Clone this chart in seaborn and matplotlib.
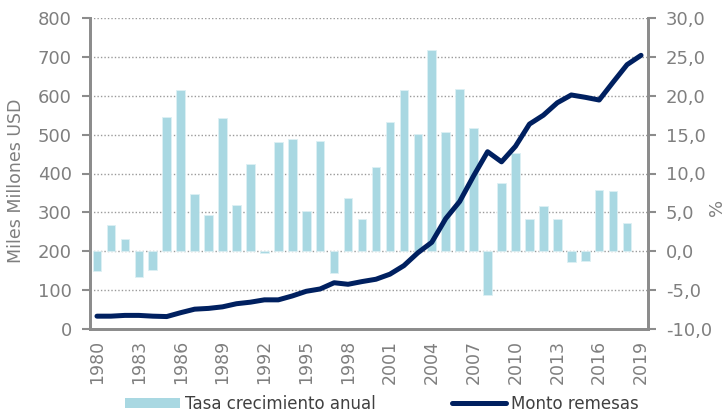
"""
Remesas: monto anual (miles de millones USD) y tasa de crecimiento anual (%).
"""

import matplotlib

matplotlib.use("Agg")

import matplotlib.pyplot as plt
import numpy as np
import pandas as pd
import seaborn as sns
from matplotlib.lines import Line2D
from matplotlib.patches import Patch

YEARS = [str(y) for y in range(1980, 2020)]

# Tasa crecimiento anual (%), eje derecho
GROWTH = [
    -2.6, 3.4, 1.6, -3.3, -2.4, 17.3, 20.8, 7.3, 4.7, 17.1,
    5.9, 11.2, -0.2, 14.1, 14.4, 5.2, 14.2, -2.8, 6.9, 4.2,
    10.9, 16.6, 20.8, 15.1, 25.9, 15.4, 20.9, 15.8, -5.6, 8.8,
    12.7, 4.1, 5.8, 4.1, -1.4, -1.2, 7.9, 7.8, 3.6, np.nan,
]

# Monto remesas (miles de millones USD), eje izquierdo
AMOUNT = [
    33, 33, 35, 35, 33, 32, 42, 51, 53, 57,
    65, 69, 75, 75, 85, 97, 103, 119, 115, 122,
    128, 141, 163, 196, 223, 284, 328, 394, 456, 430,
    470, 527, 550, 582, 602, 596, 589, 635, 680, 704,
]

LEFT_TICKS = list(range(0, 801, 100))
RIGHT_TICKS = list(range(-10, 31, 5))

BAR_COLOR = "#A9D8E2"
LINE_COLOR = "#002060"
AXIS_GRAY = "#8C8C8C"
TEXT_GRAY = "#7F7F7F"

df = pd.DataFrame({"year": YEARS, "growth": GROWTH, "amount": AMOUNT})

sns.set_style("white")
plt.rcParams["font.family"] = ["DejaVu Sans"]

fig = plt.figure(figsize=(7.28, 4.12), dpi=100)
ax_line = fig.add_axes([90 / 728, 1 - 329 / 412, (648 - 90) / 728, (329 - 18) / 412])
ax_bar = ax_line.twinx()

# Barras (eje derecho), debajo de la línea
sns.barplot(data=df, x="year", y="growth", color=BAR_COLOR, width=0.62,
            edgecolor="#DDF0F4", linewidth=0.6, saturation=1, ax=ax_bar)
ax_bar.set_ylim(-10, 30)
ax_bar.set_yticks(RIGHT_TICKS)
ax_bar.set_yticklabels([f"{t:.1f}".replace(".", ",") for t in RIGHT_TICKS])
ax_bar.set_ylabel("%", color=TEXT_GRAY, fontsize=13)
ax_bar.yaxis.set_label_coords(1.108, 0.392)
ax_bar.set_xlabel("")
ax_bar.set_axisbelow(True)
ax_bar.grid(axis="y", linestyle=(0, (1, 1.5)), color="#9A9A9A", linewidth=1.0)

# Línea (eje izquierdo), por encima
sns.lineplot(data=df, x="year", y="amount", color=LINE_COLOR, linewidth=3.6,
             solid_capstyle="round", ax=ax_line)
ax_line.set_ylim(0, 800)
ax_line.set_yticks(LEFT_TICKS)
ax_line.set_ylabel("Miles Millones USD", color=TEXT_GRAY, fontsize=12.5)
ax_line.yaxis.set_label_coords(-0.117, 0.476)
ax_line.grid(False)
ax_line.set_zorder(ax_bar.get_zorder() + 1)
ax_line.patch.set_visible(False)

# Eje X: etiqueta cada tres años, marcas entre categorías
for axis in (ax_bar, ax_line):
    axis.set_xlim(-0.5, len(YEARS) - 0.5)
ax_line.set_xticks(range(0, len(YEARS), 3))
ax_line.set_xticklabels(YEARS[::3], rotation=90)
ax_line.set_xticks(np.arange(-0.5, len(YEARS), 1.0), minor=True)
ax_line.tick_params(axis="x", which="major", length=0, pad=8, labelsize=12.5, labelcolor=TEXT_GRAY)
ax_line.tick_params(axis="x", which="minor", length=5, width=1.2, color=AXIS_GRAY, direction="out")
ax_line.set_xlabel("")
ax_bar.tick_params(axis="x", which="both", length=0, labelbottom=False)

ax_bar.tick_params(axis="y", length=6, width=1.5, color=AXIS_GRAY, labelsize=13, pad=7,
                   labelcolor=TEXT_GRAY, right=True, left=False, labelright=True, labelleft=False)
ax_line.tick_params(axis="y", length=6, width=1.5, color=AXIS_GRAY, labelsize=13, pad=7,
                    labelcolor=TEXT_GRAY, left=True, right=False, labelleft=True, labelright=False)

for axis in (ax_bar, ax_line):
    axis.spines["top"].set_visible(False)
    for side in ("left", "right", "bottom"):
        axis.spines[side].set_color(AXIS_GRAY)
        axis.spines[side].set_linewidth(2)

handles = [
    Patch(facecolor=BAR_COLOR, edgecolor="none"),
    Line2D([0], [0], color=LINE_COLOR, linewidth=3.6, solid_capstyle="round"),
]
fig.legend(handles, ["Tasa crecimiento anual", "Monto remesas"],
           loc="center", bbox_to_anchor=(0.525, 0.02), ncol=2, frameon=False,
           fontsize=12, labelcolor="#404040", handlelength=3.25, handletextpad=0.3,
           columnspacing=4.6, handleheight=0.6, borderpad=0.1)

fig.savefig("out.png", dpi=100)
plt.close(fig)
